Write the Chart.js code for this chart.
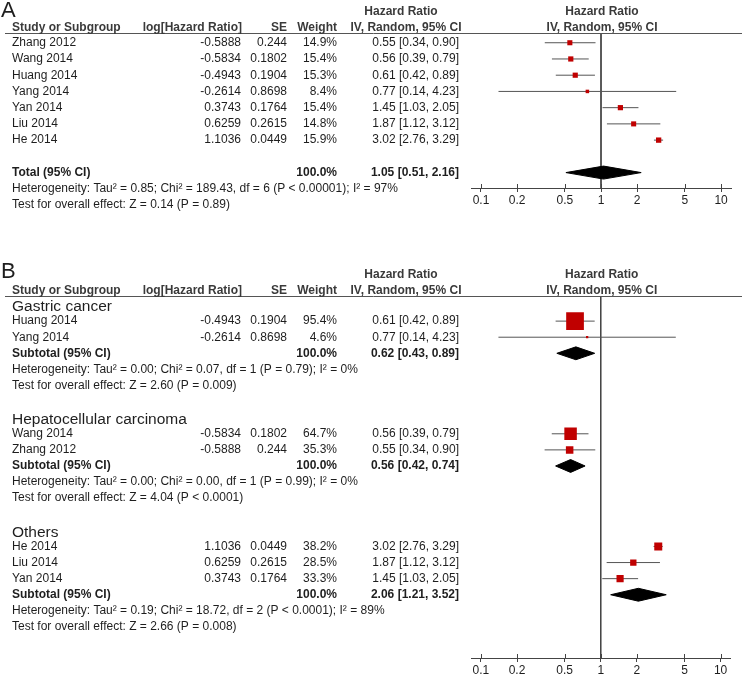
<!DOCTYPE html>
<html>
<head>
<meta charset="utf-8">
<script src="https://cdn.jsdelivr.net/npm/chart.js@4.4.1/dist/chart.umd.min.js"></script>
<style>
  html, body { margin: 0; padding: 0; background: #fff; }
  body { width: 743px; height: 676px; position: relative; overflow: hidden; }
  canvas { position: absolute; left: 0; }
  #chartA { top: 0; }
  #chartB { top: 230px; }
</style>
</head>
<body>
<canvas id="chartA" width="743" height="230"></canvas>
<canvas id="chartB" width="743" height="446"></canvas>
<script>
// Panel A - all studies
const studiesA = ['Zhang 2012', 'Wang 2014', 'Huang 2014', 'Yang 2014', 'Yan 2014', 'Liu 2014', 'He 2014'];
const logHrA = [-0.5888, -0.5834, -0.4943, -0.2614, 0.3743, 0.6259, 1.1036];
const seA = [0.244, 0.1802, 0.1904, 0.8698, 0.1764, 0.2615, 0.0449];
const weightA = [14.9, 15.4, 15.3, 8.4, 15.4, 14.8, 15.9];
const hrA = [0.55, 0.56, 0.61, 0.77, 1.45, 1.87, 3.02];
const lowA = [0.34, 0.39, 0.42, 0.14, 1.03, 1.12, 2.76];
const highA = [0.90, 0.79, 0.89, 4.23, 2.05, 3.12, 3.29];
const totalA = [1.05, 0.51, 2.16];
const hetA = 'Heterogeneity: Tau² = 0.85; Chi² = 189.43, df = 6 (P < 0.00001); I² = 97%';
const testA = 'Test for overall effect: Z = 0.14 (P = 0.89)';

// Panel B - subgroups
const groupsB = ['Gastric cancer', 'Hepatocellular carcinoma', 'Others'];
const groupOfB = [0, 0, 1, 1, 2, 2, 2];
const studiesB = ['Huang 2014', 'Yang 2014', 'Wang 2014', 'Zhang 2012', 'He 2014', 'Liu 2014', 'Yan 2014'];
const logHrB = [-0.4943, -0.2614, -0.5834, -0.5888, 1.1036, 0.6259, 0.3743];
const seB = [0.1904, 0.8698, 0.1802, 0.244, 0.0449, 0.2615, 0.1764];
const weightB = [95.4, 4.6, 64.7, 35.3, 38.2, 28.5, 33.3];
const hrB = [0.61, 0.77, 0.56, 0.55, 3.02, 1.87, 1.45];
const lowB = [0.42, 0.14, 0.39, 0.34, 2.76, 1.12, 1.03];
const highB = [0.89, 4.23, 0.79, 0.90, 3.29, 3.12, 2.05];
const subHrB = [0.62, 0.56, 2.06];
const subLowB = [0.43, 0.42, 1.21];
const subHighB = [0.89, 0.74, 3.52];
const hetB = [
    'Heterogeneity: Tau² = 0.00; Chi² = 0.07, df = 1 (P = 0.79); I² = 0%',
    'Heterogeneity: Tau² = 0.00; Chi² = 0.00, df = 1 (P = 0.99); I² = 0%',
    'Heterogeneity: Tau² = 0.19; Chi² = 18.72, df = 2 (P < 0.0001); I² = 89%'
];
const testB = [
    'Test for overall effect: Z = 2.60 (P = 0.009)',
    'Test for overall effect: Z = 4.04 (P < 0.0001)',
    'Test for overall effect: Z = 2.66 (P = 0.008)'
];

const xTicks = [0.1, 0.2, 0.5, 1, 2, 5, 10];

// styles
const FONT = '"Liberation Sans", Arial, sans-serif';
const TXT = '#1e1e1e';
const HEAD = '#3a3a3a';
const RED = '#c00000';
const LINE = '#555';
const COL = { name: 12, logHr: 241, se: 287, weight: 337, ci: 459 };

const fmtCI = (h, l, u) => h.toFixed(2) + ' [' + l.toFixed(2) + ', ' + u.toFixed(2) + ']';

function studyText(row, name, lhr, se, w, h, l, u) {
    const f = '12px ' + FONT;
    return [
        { row, text: name, x: COL.name, align: 'left', font: f },
        { row, text: String(lhr), x: COL.logHr, align: 'right', font: f },
        { row, text: String(se), x: COL.se, align: 'right', font: f },
        { row, text: w.toFixed(1) + '%', x: COL.weight, align: 'right', font: f },
        { row, text: fmtCI(h, l, u), x: COL.ci, align: 'right', font: f }
    ];
}

function summaryText(row, label, h, l, u) {
    const f = 'bold 12px ' + FONT;
    return [
        { row, text: label, x: COL.name, align: 'left', font: f },
        { row, text: '100.0%', x: COL.weight, align: 'right', font: f },
        { row, text: fmtCI(h, l, u), x: COL.ci, align: 'right', font: f }
    ];
}

function noteText(row, text) {
    return [{ row, text, x: COL.name, align: 'left', font: '12px ' + FONT }];
}

// plugin that draws table text, header and letter
function tablePlugin(items, letter, letterY) {
    return {
        id: 'forestTable' + letter,
        afterDraw(chart) {
            const ctx = chart.ctx;
            const ys = chart.scales.y;
            const xs = chart.scales.x;
            const area = chart.chartArea;
            ctx.save();

            ctx.fillStyle = TXT;
            ctx.textBaseline = 'alphabetic';
            ctx.textAlign = 'left';
            ctx.font = '22px ' + FONT;
            ctx.fillText(letter, 1, letterY);

            // header line
            ctx.strokeStyle = '#555';
            ctx.lineWidth = 1;
            ctx.beginPath();
            ctx.moveTo(5, Math.round(area.top) + 0.5);
            ctx.lineTo(742, Math.round(area.top) + 0.5);
            ctx.stroke();

            // header texts
            const top = area.top;
            ctx.fillStyle = HEAD;
            ctx.font = 'bold 12px ' + FONT;
            ctx.textBaseline = 'middle';
            ctx.textAlign = 'left';
            ctx.fillText('Study or Subgroup', COL.name, top - 5);
            ctx.textAlign = 'right';
            ctx.fillText('log[Hazard Ratio]', COL.logHr + 1, top - 5);
            ctx.fillText('SE', COL.se, top - 5);
            ctx.fillText('Weight', COL.weight, top - 5);
            ctx.textAlign = 'center';
            ctx.fillText('Hazard Ratio', 401, top - 21);
            ctx.fillText('IV, Random, 95% CI', 406, top - 5);
            const cx = xs.getPixelForValue(1) + 1;
            ctx.fillText('Hazard Ratio', cx, top - 21);
            ctx.fillText('IV, Random, 95% CI', cx, top - 5);

            // body rows
            ctx.fillStyle = TXT;
            items.forEach(it => {
                ctx.font = it.font;
                ctx.textAlign = it.align;
                ctx.fillText(it.text, it.x, ys.getPixelForValue(it.row) + (it.dy || 0));
            });

            // upward half of the tick marks
            ctx.strokeStyle = '#444';
            ctx.beginPath();
            xTicks.forEach(v => {
                const px = Math.round(xs.getPixelForValue(v)) + 0.5;
                ctx.moveTo(px, area.bottom - 4);
                ctx.lineTo(px, area.bottom);
            });
            ctx.stroke();
            ctx.restore();
        }
    };
}

function ciLine(l, u, row) {
    return {
        type: 'line',
        data: [{ x: l, y: row }, { x: u, y: row }],
        borderColor: LINE, borderWidth: 1, pointRadius: 0, fill: false, order: 2
    };
}

function diamond(h, l, u, row) {
    const d = 0.4;
    return {
        type: 'line',
        data: [{ x: l, y: row }, { x: h, y: row - d }, { x: u, y: row }, { x: h, y: row + d }, { x: l, y: row }],
        borderColor: '#000', backgroundColor: '#000', borderWidth: 1,
        pointRadius: 0, fill: 'shape', tension: 0, order: 0
    };
}

function squares(h, rows, weights, k) {
    return {
        type: 'scatter',
        data: h.map((v, i) => ({ x: v, y: rows[i] })),
        pointStyle: 'rect',
        pointRadius: weights.map(w => (1.5 + k * w) / Math.SQRT2),
        backgroundColor: RED, borderColor: RED, borderWidth: 0, order: 0
    };
}

function refLine(yMin, yMax) {
    return {
        type: 'line',
        data: [{ x: 1, y: yMin }, { x: 1, y: yMax }],
        borderColor: '#444', borderWidth: 1, pointRadius: 0, fill: false, order: 3
    };
}

function makeChart(id, datasets, yMin, yMax, padTop, padBottom, plugin) {
    return new Chart(document.getElementById(id), {
        type: 'scatter',
        data: { datasets },
        plugins: [plugin],
        options: {
            responsive: false,
            animation: false,
            events: [],
            layout: { padding: { left: 471, right: 12, top: padTop, bottom: padBottom } },
            plugins: { legend: { display: false }, tooltip: { enabled: false } },
            scales: {
                x: {
                    type: 'logarithmic',
                    position: 'bottom',
                    min: 0.0826,
                    max: 12.1,
                    bounds: 'data',
                    afterBuildTicks: s => { s.ticks = xTicks.map(v => ({ value: v })); },
                    afterFit: s => { s.height = 16; },
                    ticks: {
                        callback: v => String(v),
                        autoSkip: false, maxRotation: 0, padding: 1,
                        color: TXT, font: { family: FONT, size: 12 }
                    },
                    grid: { drawOnChartArea: false, drawTicks: true, tickLength: 4, color: '#444' },
                    border: { display: true, color: '#444', width: 1 }
                },
                y: {
                    type: 'linear', reverse: true, display: false,
                    min: yMin, max: yMax, bounds: 'data'
                }
            }
        }
    });
}

// ---- build panel A ----
const rowsA = studiesA.map((_, i) => i);
const totalRowA = studiesA.length + 1;
let itemsA = [];
studiesA.forEach((s, i) => {
    itemsA = itemsA.concat(studyText(rowsA[i], s, logHrA[i], seA[i], weightA[i], hrA[i], lowA[i], highA[i]));
});
itemsA = itemsA.concat(summaryText(totalRowA, 'Total (95% CI)', totalA[0], totalA[1], totalA[2]));
itemsA = itemsA.concat(noteText(totalRowA + 1, hetA), noteText(totalRowA + 2, testA));

const yMinA = -0.6, yMaxA = 8.95;
const dsA = [squares(hrA, rowsA, weightA, 0.24), diamond(totalA[0], totalA[1], totalA[2], totalRowA)]
    .concat(hrA.map((_, i) => ciLine(lowA[i], highA[i], rowsA[i])))
    .concat([refLine(yMinA, yMaxA)]);
makeChart('chartA', dsA, yMinA, yMaxA, 33, 26, tablePlugin(itemsA, 'A', 17));

// ---- build panel B ----
const rowsB = [];
const headRowsB = [];
const subRowsB = [];
let r = 0;
groupsB.forEach((g, gi) => {
    headRowsB.push(r); r++;
    studiesB.forEach((s, i) => { if (groupOfB[i] === gi) { rowsB[i] = r; r++; } });
    subRowsB.push(r); r += 4;
});
let itemsB = [];
groupsB.forEach((g, gi) => {
    itemsB.push({ row: headRowsB[gi], text: g, x: COL.name, align: 'left', font: '15.5px ' + FONT, dy: 2 });
    itemsB = itemsB.concat(summaryText(subRowsB[gi], 'Subtotal (95% CI)', subHrB[gi], subLowB[gi], subHighB[gi]));
    itemsB = itemsB.concat(noteText(subRowsB[gi] + 1, hetB[gi]), noteText(subRowsB[gi] + 2, testB[gi]));
});
studiesB.forEach((s, i) => {
    itemsB = itemsB.concat(studyText(rowsB[i], s, logHrB[i], seB[i], weightB[i], hrB[i], lowB[i], highB[i]));
});

const yMinB = -0.56, yMaxB = 21.93;
const dsB = [squares(hrB, rowsB, weightB, 0.17)]
    .concat(subHrB.map((h, gi) => diamond(h, subLowB[gi], subHighB[gi], subRowsB[gi])))
    .concat(hrB.map((_, i) => ciLine(lowB[i], highB[i], rowsB[i])))
    .concat([refLine(yMinB, yMaxB)]);
makeChart('chartB', dsB, yMinB, yMaxB, 66, 2, tablePlugin(itemsB, 'B', 48));
</script>
</body>
</html>
